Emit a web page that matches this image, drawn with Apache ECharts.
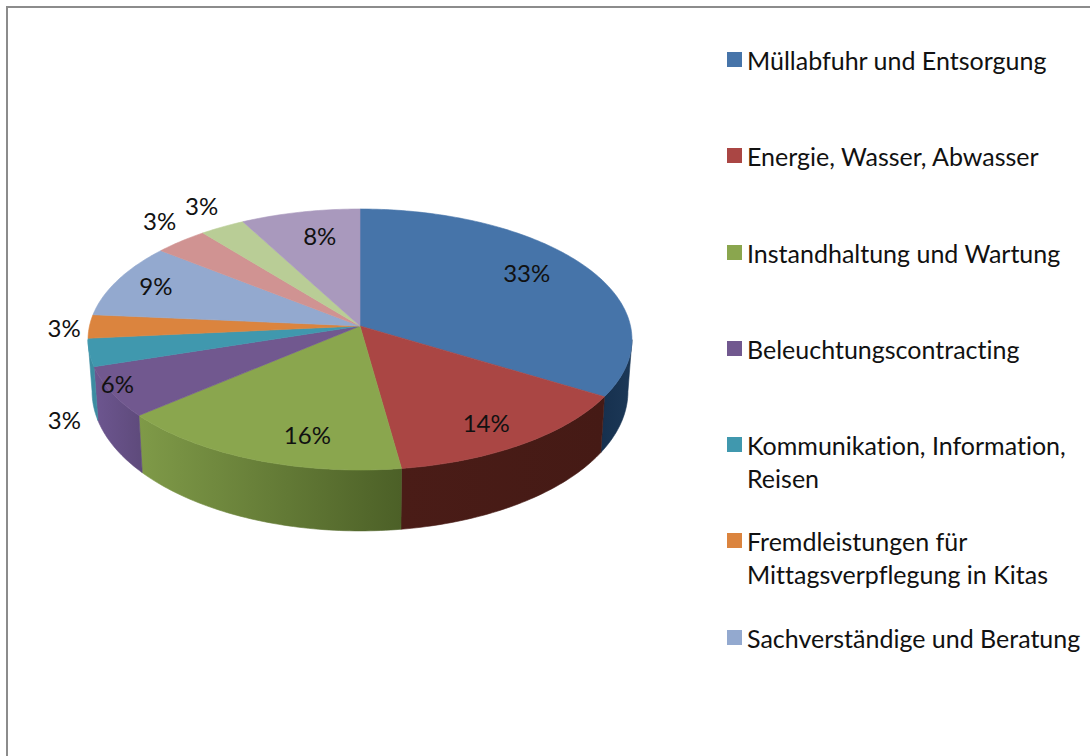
<!DOCTYPE html>
<html><head><meta charset="utf-8">
<style>html,body{margin:0;padding:0;background:#fff}#c{width:1090px;height:756px}#c text{font-variant-ligatures:none}</style>
<script src="https://cdn.jsdelivr.net/npm/echarts@6/dist/echarts.min.js"></script>
</head><body><div id="c"></div>
<script>
// --- data ---
const categories = ['Müllabfuhr und Entsorgung','Energie, Wasser, Abwasser','Instandhaltung und Wartung','Beleuchtungscontracting','Kommunikation, Information, Reisen','Fremdleistungen für Mittagsverpflegung in Kitas','Sachverständige und Beratung','Sonstige A','Sonstige B','Sonstige C'];
const shares = [33.67,14.13,16.0,6.26,3.44,2.9,9.27,3.53,2.97,7.83];
const percentLabels = ['33%','14%','16%','6%','3%','3%','9%','3%','3%','8%'];
// --- styling and layout ---
const topColors = ['#4674a9','#aa4644','#8aa64e','#71588f','#4098ae','#db843e','#93a9cf','#d09392','#b9cd96','#a999bd'];
const wallColors = [['#16304e','#1c3857'],['#4a1c17','#451a15'],['#7f9a48','#4c6027'],['#6d5690','#5e4a7b'],['#3c8ca1','#3c8ca1'],['#b36b30','#b36b30'],['#7a8cab','#7a8cab'],['#a87776','#a87776'],['#98a97b','#98a97b'],['#8b7d9c','#8b7d9c']];
const labelOffsets = [[3,-9],[12,14],[22,15],[-66,11],[-102,75],[-101,1],[-28,-7],[-69,-43],[-57,-48],[4,-6]];
const legendCentres = [59.5,155.5,252.5,348.5,444.5,540.5,637.5];
const FONT = 'Lato, "Open Sans", sans-serif';
const total = shares.reduce((a,b)=>a+b,0);
const cum = [0]; shares.forEach((s,i)=>cum.push(cum[i]+s/total));

const K = 0.1034;
function topPt(th,r){const u=r*Math.sin(th),v=r*Math.cos(th),w=1+K*v;return [360+270.5*u/w,326-129.1*v/w];}
function botPt(th){const u=Math.sin(th),v=Math.cos(th),w=1+K*v;return [360+266.5*u/w,377-138*v/w];}
const DEG=Math.PI/180;

function renderSlice(params,api){
  const i=params.seriesIndex;
  const a0=cum[i]*2*Math.PI, a1=a0+api.value(0)/total*2*Math.PI;
  const pts=[topPt(0,0)], n=Math.max(2,Math.ceil((a1-a0)/DEG));
  for(let k=0;k<=n;k++) pts.push(topPt(a0+(a1-a0)*k/n,1));
  const children=[];
  const w0=Math.max(a0,96*DEG), w1=Math.min(a1,264*DEG);
  if(w1>w0){
    const m=Math.max(2,Math.ceil((w1-w0)/DEG)),t=[],b=[];
    for(let k=0;k<=m;k++){const th=w0+(w1-w0)*k/m;t.push(topPt(th,1));b.unshift(botPt(th));}
    const c=wallColors[i];
    const fill=new echarts.graphic.LinearGradient(0,0,1,0,[{offset:0,color:c[0]},{offset:1,color:c[1]}]);
    children.push({type:'polygon',z2:0,shape:{points:t.concat(b)},style:{fill:fill,stroke:fill,lineWidth:0.6}});
  }
  children.push({type:'polygon',z2:1,shape:{points:pts},style:{fill:topColors[i],stroke:topColors[i],lineWidth:0.6}});
  const mid=topPt((a0+a1)/2,0.72),o=labelOffsets[i];
  children.push({type:'text',z2:2,x:mid[0]+o[0],y:mid[1]+o[1],style:{text:percentLabels[i],font:'24px '+FONT,fill:'#111',align:'center',verticalAlign:'middle'}});
  return {type:'group',children};
}

const series=categories.map((name,i)=>({type:'custom',name,coordinateSystem:'none',renderItem:renderSlice,data:[[shares[i]]],itemStyle:{color:topColors[i]},animation:false,silent:true}));
const wrap=n=>n.includes('Reisen')?'\n'+n.replace(', Reisen',',\nReisen'):n.includes('für ')?'\n'+n.replace('für ','für\n'):n;
const legends=legendCentres.map((y,i)=>{
  const two=i===4||i===5;
  return {data:[categories[i]],left:727,top:y-(two?49.5:16.5),padding:0,itemWidth:15,itemHeight:15,icon:'rect',selectedMode:false,
    formatter:wrap,textStyle:{fontFamily:FONT,fontSize:25,lineHeight:33,color:'#111'}};
});
const chart=echarts.init(document.getElementById('c'),null,{renderer:'svg'});
chart.setOption({animation:false,backgroundColor:'#fff',legend:legends,series,
  graphic:[
    {type:'line',shape:{x1:6,y1:7,x2:1090,y2:7},style:{stroke:'#8c8c8c',lineWidth:2}},
    {type:'line',shape:{x1:7,y1:6,x2:7,y2:756},style:{stroke:'#8c8c8c',lineWidth:2}}
  ]});
</script></body></html>
